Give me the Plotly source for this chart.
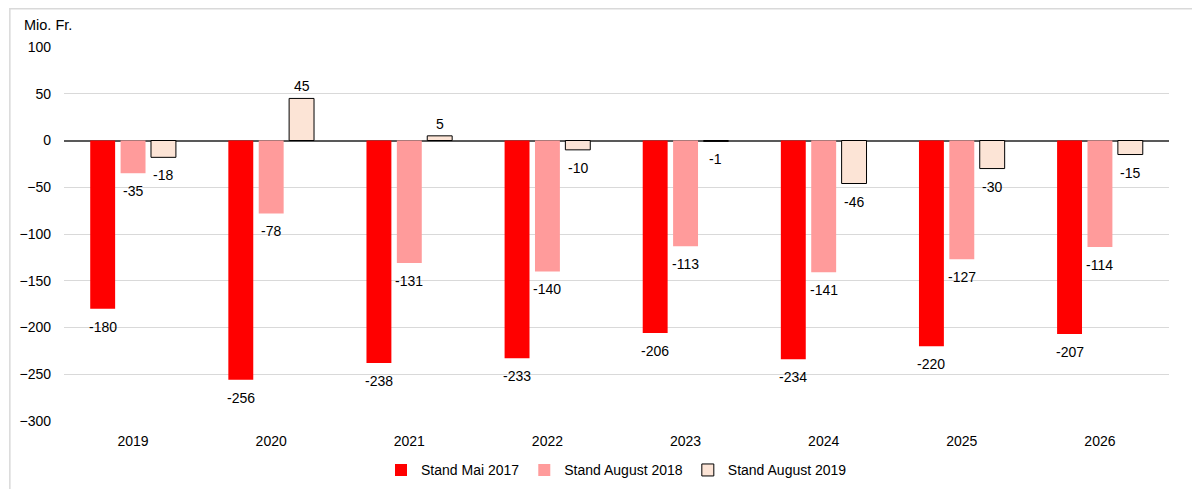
import plotly.graph_objects as go

years = ['2019', '2020', '2021', '2022', '2023', '2024', '2025', '2026']
stand_mai_2017 = [-180, -256, -238, -233, -206, -234, -220, -207]
stand_aug_2018 = [-35, -78, -131, -140, -113, -141, -127, -114]
stand_aug_2019 = [-18, 45, 5, -10, -1, -46, -30, -15]

series = [
    ('Stand Mai 2017', stand_mai_2017, '#FF0000', dict(width=0)),
    ('Stand August 2018', stand_aug_2018, '#FF9B9B', dict(width=0)),
    ('Stand August 2019', stand_aug_2019, '#FCE4D6', dict(color='#000000', width=1)),
]

font_family = 'Liberation Sans, Arial, sans-serif'

# page body has an 8px margin, so the figure is a bit smaller than the window
fig_w, fig_h = 1192, 481
margin = dict(l=56, r=31, t=39, b=68)
plot_w = fig_w - margin['l'] - margin['r']
bargap = 0.34
slot = plot_w / len(years) * (1 - bargap) / len(series)

fig = go.Figure()

for i, (name, values, color, outline) in enumerate(series):
    fig.add_trace(go.Bar(
        x=years, y=values, name=name,
        marker=dict(color=color, line=outline),
    ))
    # value labels, placed a little away from the bar ends
    # (category index as x, since numeric-looking strings are read as indices)
    for j, v in enumerate(values):
        fig.add_annotation(
            x=j, y=v, text=str(v), showarrow=False,
            xshift=(i - 1) * slot,
            yanchor='top' if v < 0 else 'bottom',
            yshift=-8 if v < 0 else 2,
            font=dict(size=14, color='#000000'),
        )

# outer light border like the original chart frame
fig.add_shape(
    type='rect', xref='paper', yref='paper',
    x0=-0.049, x1=1.06, y0=-0.3, y1=1.102,
    line=dict(color='#D9D9D9', width=1.5), fillcolor='rgba(0,0,0,0)',
    layer='below',
)

fig.add_annotation(
    text='Mio. Fr.', xref='paper', yref='paper',
    x=-0.038, y=1.06, xanchor='left', yanchor='middle',
    showarrow=False, font=dict(size=14.5, color='#000000'),
)

fig.update_layout(
    width=fig_w, height=fig_h,
    margin=dict(**margin, autoexpand=False),
    paper_bgcolor='white', plot_bgcolor='white',
    font=dict(family=font_family, size=14, color='#000000'),
    barmode='group', bargap=bargap, bargroupgap=0.18,
    showlegend=True,
    legend=dict(orientation='h', x=0.5, xanchor='center', y=-0.132, yanchor='middle',
                font=dict(size=14), itemwidth=30, traceorder='normal'),
)

fig.update_yaxes(
    range=[-300, 100], dtick=50,
    showgrid=True, gridcolor='#D9D9D9', gridwidth=1,
    zeroline=True, zerolinecolor='#595959', zerolinewidth=1.5,
    showline=False, ticks='', ticklen=0, automargin=False,
    tickfont=dict(size=14), ticklabelstandoff=12,
)
fig.update_xaxes(
    type='category', range=[-0.5, len(years) - 0.5],
    showgrid=False, showline=False, ticks='', automargin=False,
    tickfont=dict(size=14), ticklabelstandoff=10,
)

fig.write_html('out.html')
